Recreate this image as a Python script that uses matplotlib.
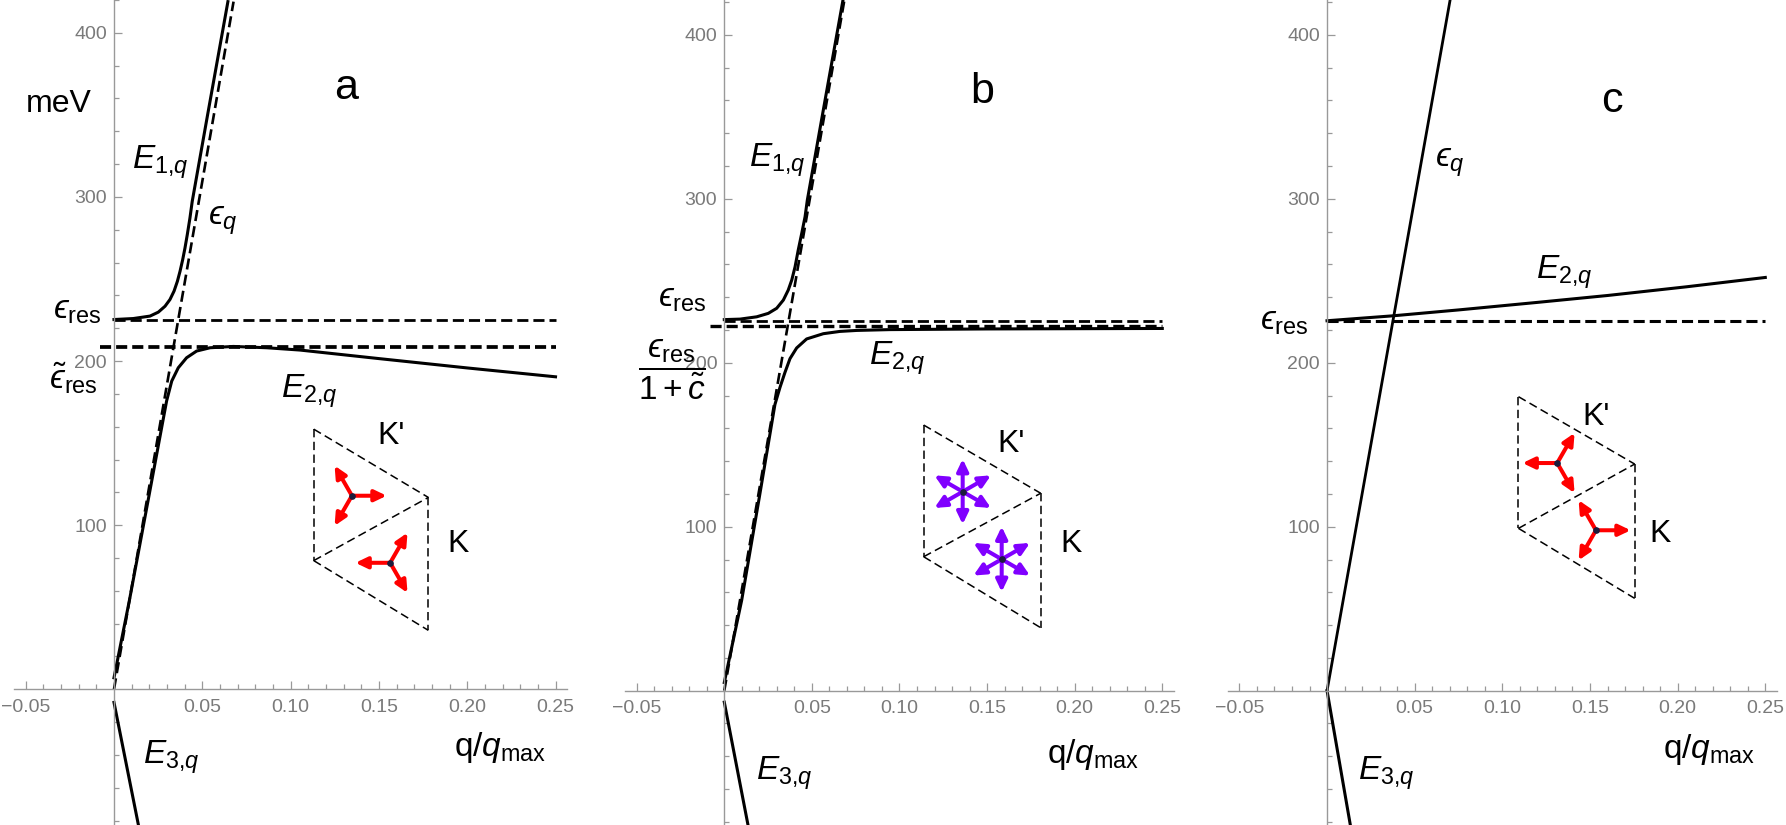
import numpy as np
import matplotlib.pyplot as plt

plt.rcParams['font.family'] = ['Liberation Sans', 'DejaVu Sans']
plt.rcParams['mathtext.fontset'] = 'custom'
plt.rcParams['mathtext.rm'] = 'Liberation Sans'
plt.rcParams['mathtext.it'] = 'Liberation Sans:italic'
plt.rcParams['mathtext.bf'] = 'Liberation Sans:bold'
plt.rcParams['mathtext.fallback'] = 'stixsans'
plt.rcParams['lines.scale_dashes'] = False

# ticks
x_major = [-0.05, 0.05, 0.10, 0.15, 0.20, 0.25]
x_labels = ['\u22120.05', '0.05', '0.10', '0.15', '0.20', '0.25']
x_minor = [-0.04, -0.03, -0.02, -0.01, 0.01, 0.02, 0.03, 0.04, 0.06, 0.07, 0.08, 0.09,
           0.11, 0.12, 0.13, 0.14, 0.16, 0.17, 0.18, 0.19, 0.21, 0.22, 0.23, 0.24]
y_major = [100, 200, 300, 400]
y_labels = ['100', '200', '300', '400']
y_minor = [-80, -60, -40, -20, 20, 40, 60, 80, 120, 140, 160, 180, 220, 240, 260, 280,
           320, 340, 360, 380, 420]

# panel a  (q/q_max , meV)
a_epsq_q = [0.0, 0.0677]
a_epsq_e = [0.0, 419.0]
a_eres = 225.3
a_eres_t = 208.7
a_e1_q = [0.0, 0.0109, 0.0204, 0.0251, 0.0289, 0.0317, 0.0340, 0.0359, 0.0374, 0.0389,
          0.0402, 0.0415, 0.0430, 0.0443, 0.0530, 0.0645]
a_e1_e = [225.3, 225.9, 227.4, 229.8, 233.4, 237.5, 242.6, 248.6, 254.7, 261.8,
          268.9, 277.0, 287.1, 297.3, 350.0, 419.0]
a_e2_q = [0.0, 0.0087, 0.020, 0.0298, 0.0327, 0.0364, 0.0411, 0.0468, 0.0544, 0.0676,
          0.0865, 0.1053, 0.15, 0.20, 0.25]
a_e2_e = [7.0, 54.0, 119.0, 175.7, 187.8, 195.9, 202.0, 206.1, 208.1, 208.9,
          208.1, 206.7, 201.5, 195.8, 190.4]
a_e3_q = [0.0, 0.015]
a_e3_e = [-8.0, -89.0]
# rhombus corners: top-left, middle-left, right, bottom-right
a_rhomb_q = [0.1131, 0.1131, 0.178, 0.178]
a_rhomb_e = [158.5, 78.4, 116.9, 35.9]

# panel b
b_epsq_q = [0.0, 0.0686]
b_epsq_e = [0.0, 421.5]
b_eres = 225.6
b_eres_c = 222.4
b_e1_q = [0.0, 0.0090, 0.0185, 0.0251, 0.0299, 0.0337, 0.0365, 0.0385, 0.0404, 0.0422,
          0.0442, 0.0461, 0.0474, 0.0575, 0.0678]
b_e1_e = [226.3, 226.6, 228.0, 230.1, 233.2, 238.2, 244.3, 250.4, 258.5, 268.7,
          278.9, 289.0, 299.2, 360.0, 421.5]
b_e2_q = [0.0, 0.0099, 0.020, 0.0289, 0.0318, 0.0346, 0.0375, 0.0413, 0.0470, 0.0565,
          0.0660, 0.0756, 0.0946, 0.15, 0.25]
b_e2_e = [5.0, 55.0, 118.0, 174.5, 185.0, 194.0, 202.5, 209.0, 214.5, 217.7,
          219.1, 219.7, 220.2, 220.6, 220.9]
b_e3_q = [0.0, 0.015]
b_e3_e = [-7.0, -90.0]
b_rhomb_q = [0.1138, 0.1138, 0.1806, 0.1806]
b_rhomb_e = [162.0, 81.7, 120.4, 38.4]

# panel c
c_epsq_q = [0.0, 0.0702]
c_epsq_e = [0.0, 421.2]
c_eres = 225.6
c_e2_q = [0.0, 0.0375, 0.075, 0.12, 0.16, 0.205, 0.25]
c_e2_e = [225.6, 228.6, 232.2, 236.8, 241.0, 246.3, 252.0]
c_e3_q = [0.0, 0.015]
c_e3_e = [0.0, -92.5]
c_rhomb_q = [0.1092, 0.1092, 0.1755, 0.1755]
c_rhomb_e = [179.3, 99.0, 138.2, 56.3]

# arrow directions (deg)
tri_right = [0, 120, 240]
tri_left = [180, 60, 300]
hexa = [30, 90, 150, 210, 270, 330]

RED = '#ff0000'
PURPLE = '#8000ff'
LBL = 24
EPS = '\u03f5'
E1 = r'$E_{1{,}q}$'
E2 = r'$E_{2{,}q}$'
E3 = r'$E_{3{,}q}$'
QLAB = r'q/$q_{\mathrm{max}}$'
ERES = '$' + EPS + r'_{\mathrm{res}}$'
EQ = '$' + EPS + r'_q$'


def setup(ax, ylim):
    ax.set_xlim(-0.0565, 0.2565)
    ax.set_ylim(*ylim)
    for s in ['top', 'right']:
        ax.spines[s].set_visible(False)
    ax.spines['left'].set_position(('data', 0))
    ax.spines['bottom'].set_position(('data', 0))
    for s in ['left', 'bottom']:
        ax.spines[s].set_color('#999999')
        ax.spines[s].set_linewidth(1.0)
    ax.set_xticks(x_major, x_labels)
    ax.set_xticks(x_minor, minor=True)
    ax.set_yticks(y_major, y_labels)
    ax.set_yticks(y_minor, minor=True)
    ax.tick_params(which='both', direction='in', color='#999999', width=0.9,
                   labelsize=14, labelcolor='#7a7a7a')
    ax.tick_params(which='major', length=6)
    ax.tick_params(which='minor', length=3.5)
    ax.tick_params(axis='x', pad=7)
    ax.tick_params(axis='y', pad=5)
    ax.patch.set_alpha(0)


def rhombus(ax, qs, es, angles_up, angles_low, color, length):
    tl, ml, r, br = 0, 1, 2, 3
    for i, j in [(tl, r), (tl, ml), (ml, r), (ml, br), (r, br)]:
        ax.plot([qs[i], qs[j]], [es[i], es[j]], color='black', lw=1.1, dashes=(6, 3.2))
    # arrows sit on the centroids of the two triangles
    cu = ((qs[tl] + qs[ml] + qs[r]) / 3, (es[tl] + es[ml] + es[r]) / 3)
    cl = ((qs[ml] + qs[r] + qs[br]) / 3, (es[ml] + es[r] + es[br]) / 3)
    for (cx, cy), angs in [(cu, angles_up), (cl, angles_low)]:
        for ang in angs:
            t = np.deg2rad(ang)
            ax.annotate('', xy=(cx, cy), xytext=(length * np.cos(t), length * np.sin(t)),
                        textcoords='offset points',
                        arrowprops=dict(arrowstyle='<|-,head_length=0.5,head_width=0.24',
                                        color=color, lw=2.9, shrinkA=0, shrinkB=0,
                                        mutation_scale=14))
        ax.plot(cx, cy, 'o', ms=3.8, color='#1c1c3c', zorder=5)


fig = plt.figure(figsize=(17.86, 8.25), dpi=100)
ax_a = fig.add_axes([0.00795, 0.0, 0.30952, 1.0])
ax_b = fig.add_axes([0.35011, 0.0, 0.30705, 1.0])
ax_c = fig.add_axes([0.68757, 0.0, 0.30722, 1.0])

# ---- panel a ----
ax = ax_a
setup(ax, (-82.7, 418.8))
ax.plot([0, 0.25], [a_eres, a_eres], color='black', lw=2.0, dashes=(8, 3.6))
ax.plot([-0.008, 0.25], [a_eres_t, a_eres_t], color='black', lw=2.7, dashes=(8, 3.6))
ax.plot(a_epsq_q, a_epsq_e, color='black', lw=1.9, dashes=(8, 3.8))
ax.plot(a_e1_q, a_e1_e, color='black', lw=2.2)
ax.plot(a_e2_q, a_e2_e, color='black', lw=2.2)
ax.plot(a_e3_q, a_e3_e, color='black', lw=2.2)
rhombus(ax, a_rhomb_q, a_rhomb_e, tri_right, tri_left, RED, 25)
ax.text(-0.0311, 352.0, 'meV', fontsize=23, ha='center', va='baseline')
ax.text(0.1314, 359.7, 'a', fontsize=31, ha='center', va='baseline')
ax.text(0.0102, 317.0, E1, fontsize=LBL, ha='left', va='baseline')
ax.text(0.0530, 283.0, EQ, fontsize=LBL, ha='left', va='baseline')
ax.text(-0.0071, 226.0, ERES, fontsize=LBL, ha='right', va='baseline')
ax.text(-0.0093, 183.0, r'$\tilde{' + EPS + r'}_{\mathrm{res}}$', fontsize=LBL, ha='right',
        va='baseline')
ax.text(0.0947, 177.7, E2, fontsize=LBL, ha='left', va='baseline')
ax.text(0.1489, 149.4, "K'", fontsize=23, ha='left', va='baseline')
ax.text(0.189, 83.5, 'K', fontsize=23, ha='left', va='baseline')
ax.text(0.0166, -45.2, E3, fontsize=LBL, ha='left', va='baseline')
ax.text(0.1925, -40.5, QLAB, fontsize=LBL, ha='left', va='baseline')

# ---- panel b ----
ax = ax_b
setup(ax, (-81.9, 421.2))
ax.plot([0, 0.25], [b_eres, b_eres], color='black', lw=2.0, dashes=(8, 3.6))
ax.plot([-0.008, 0.25], [b_eres_c, b_eres_c], color='black', lw=2.4, dashes=(8, 3.6))
ax.plot(b_epsq_q, b_epsq_e, color='black', lw=1.9, dashes=(8, 3.8))
ax.plot(b_e1_q, b_e1_e, color='black', lw=2.2)
ax.plot(b_e2_q, b_e2_e, color='black', lw=2.2)
ax.plot(b_e3_q, b_e3_e, color='black', lw=2.2)
rhombus(ax, b_rhomb_q, b_rhomb_e, hexa, hexa, PURPLE, 23.5)
ax.text(0.1471, 358.5, 'b', fontsize=31, ha='center', va='baseline')
ax.text(0.0140, 319.5, E1, fontsize=LBL, ha='left', va='baseline')
ax.text(-0.0100, 234.0, ERES, fontsize=LBL, ha='right', va='baseline')
ax.text(-0.0299, 195.5, r'$\dfrac{' + EPS + r'_{\mathrm{res}}}{1+\tilde{c}}$', fontsize=LBL,
        ha='center', va='center')
ax.text(0.0828, 198.6, E2, fontsize=LBL, ha='left', va='baseline')
ax.text(0.1560, 145.7, "K'", fontsize=23, ha='left', va='baseline')
ax.text(0.1920, 84.8, 'K', fontsize=23, ha='left', va='baseline')
ax.text(0.0181, -54.5, E3, fontsize=LBL, ha='left', va='baseline')
ax.text(0.1844, -44.0, QLAB, fontsize=LBL, ha='left', va='baseline')

# ---- panel c ----
ax = ax_c
setup(ax, (-81.9, 421.2))
ax.plot([0, 0.25], [c_eres, c_eres], color='black', lw=2.2, dashes=(8, 3.6))
ax.plot(c_epsq_q, c_epsq_e, color='black', lw=2.0)
ax.plot(c_e2_q, c_e2_e, color='black', lw=2.2)
ax.plot(c_e3_q, c_e3_e, color='black', lw=2.2)
rhombus(ax, c_rhomb_q, c_rhomb_e, tri_left, tri_right, RED, 25)
ax.text(0.1626, 353.0, 'c', fontsize=31, ha='center', va='baseline')
ax.text(0.0616, 319.5, EQ, fontsize=LBL, ha='left', va='baseline')
ax.text(0.1194, 251.5, E2, fontsize=LBL, ha='left', va='baseline')
ax.text(-0.0105, 220.0, ERES, fontsize=LBL, ha='right', va='baseline')
ax.text(0.1455, 162.0, "K'", fontsize=23, ha='left', va='baseline')
ax.text(0.1837, 90.9, 'K', fontsize=23, ha='left', va='baseline')
ax.text(0.0179, -54.5, E3, fontsize=LBL, ha='left', va='baseline')
ax.text(0.1918, -41.2, QLAB, fontsize=LBL, ha='left', va='baseline')

plt.savefig('out.png', dpi=100)
